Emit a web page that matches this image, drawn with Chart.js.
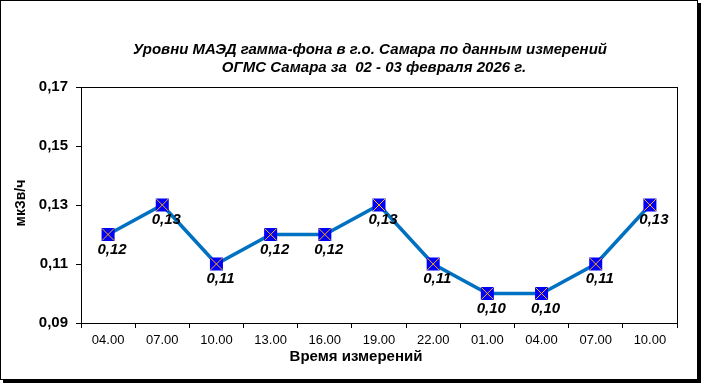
<!DOCTYPE html>
<html><head><meta charset="utf-8">
<script src="https://cdn.jsdelivr.net/npm/chart.js@4"></script>
<style>html,body{margin:0;padding:0;background:#fff}#wrap{width:701px;height:383px;position:relative}</style>
</head><body><div id="wrap"><canvas id="c" width="701" height="383"></canvas></div>
<script>
const categories = ["04.00","07.00","10.00","13.00","16.00","19.00","22.00","01.00","04.00","07.00","10.00"];
const values = [0.12,0.13,0.11,0.12,0.12,0.13,0.11,0.10,0.10,0.11,0.13];
const yTicks = [0.09,0.11,0.13,0.15,0.17];
const titleLines = ["Уровни МАЭД гамма-фона в г.о. Самара по данным измерений","ОГМС Самара за  02 - 03 февраля 2026 г."];
const xTitle = "Время измерений";
const yTitle = "мкЗв/ч";
const F = "Arial, 'Liberation Sans', sans-serif";
const fmt = v => v.toFixed(2).replace('.', ',');

const deco = {
  id: 'deco',
  beforeDraw(chart){
    const ctx = chart.ctx;
    ctx.save();
    ctx.fillStyle = '#fff';
    ctx.fillRect(0,0,701,383);
    ctx.restore();
  },
  afterDraw(chart){
    const ctx = chart.ctx, a = chart.chartArea;
    ctx.save();
    ctx.strokeStyle = '#000'; ctx.lineWidth = 1;
    ctx.strokeRect(Math.round(a.left)+0.5, Math.round(a.top)+0.5, Math.round(a.right-a.left), Math.round(a.bottom-a.top));
    ctx.strokeRect(0.5,0.5,697,379);
    ctx.fillStyle = '#000';
    ctx.fillRect(698,3,3,380);
    ctx.fillRect(3,380,698,3);
    ctx.fillStyle = '#000';
    ctx.textAlign = 'center'; ctx.textBaseline = 'middle';
    ctx.font = 'italic bold 15px ' + F;
    ctx.fillText(titleLines[0], 370, 50);
    ctx.fillText(titleLines[1], 374, 68);
    ctx.font = 'bold 15px ' + F;
    ctx.fillText(xTitle, 356, 357);
    ctx.font = 'bold 14px ' + F;
    ctx.save();
    ctx.translate(21, 203); ctx.rotate(-Math.PI/2);
    ctx.fillText(yTitle, 0, 0);
    ctx.restore();
    const meta = chart.getDatasetMeta(0);
    ctx.strokeStyle = '#FFB000'; ctx.lineWidth = 1;
    meta.data.forEach((p) => {
      const h = 6;
      ctx.beginPath();
      ctx.moveTo(p.x-h, p.y-h); ctx.lineTo(p.x+h, p.y+h);
      ctx.moveTo(p.x+h, p.y-h); ctx.lineTo(p.x-h, p.y+h);
      ctx.stroke();
    });
    ctx.fillStyle = '#000';
    ctx.font = 'italic bold 15px ' + F;
    meta.data.forEach((p, i) => {
      ctx.fillText(fmt(values[i]), p.x + 4, p.y + 15);
    });
    ctx.restore();
  }
};

new Chart(document.getElementById('c'), {
  type: 'line',
  data: { labels: categories, datasets: [{
    data: values,
    borderColor: '#0070C0',
    borderWidth: 3.5,
    pointStyle: 'rect',
    pointRadius: 9.2,
    pointHoverRadius: 9.2,
    pointBackgroundColor: '#0000FF',
    pointBorderColor: '#0000FF',
    pointBorderWidth: 0,
    tension: 0,
    fill: false
  }]},
  options: {
    responsive: false,
    animation: false,
    devicePixelRatio: 1,
    layout: { padding: { left: 0, top: 87, right: 24, bottom: 0 } },
    plugins: { legend: { display: false }, title: { display: false }, tooltip: { enabled: false } },
    events: [],
    scales: {
      x: {
        type: 'category',
        offset: true,
        grid: { display: true, offset: true, drawOnChartArea: false, drawTicks: true, tickLength: 5, tickColor: '#000', tickWidth: 1 },
        border: { display: true, color: '#000', width: 1 },
        ticks: { color: '#000', font: { family: F, size: 13 }, padding: 5, maxRotation: 0, autoSkip: false },
        afterFit(s){ s.height = 60; }
      },
      y: {
        min: 0.09, max: 0.17,
        afterBuildTicks(s){ s.ticks = yTicks.map(v => ({ value: v })); },
        grid: { display: true, drawOnChartArea: false, drawTicks: true, tickLength: 5, tickColor: '#000', tickWidth: 1 },
        border: { display: true, color: '#000', width: 1 },
        ticks: { color: '#000', font: { family: F, size: 15, weight: 'bold' }, padding: 8, callback: v => fmt(v) },
        afterFit(s){ s.width = 81; }
      }
    }
  },
  plugins: [deco]
});
</script></body></html>
